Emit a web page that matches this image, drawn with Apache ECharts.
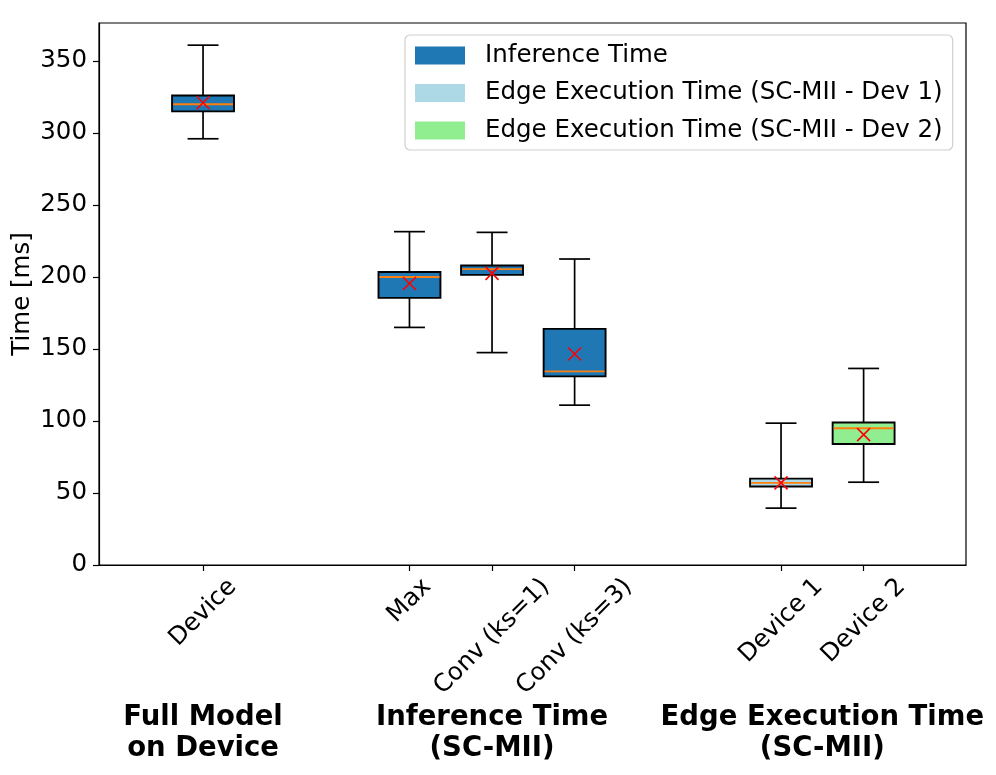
<!DOCTYPE html>
<html><head><meta charset="utf-8">
<script src="https://cdn.jsdelivr.net/npm/echarts@6/dist/echarts.min.js"></script>
<style>html,body{margin:0;padding:0;background:#fff}#c{width:996px;height:775px}</style>
</head><body><div id="c"></div>
<script>
// ---- data ----
const tickLabels = ['Device', 'Max', 'Conv (ks=1)', 'Conv (ks=3)', 'Device 1', 'Device 2'];
const positions = [1, 3.5, 4.5, 5.5, 8, 9];
const whiskerLow = [296, 165, 147.5, 111, 39.5, 57.5];
const q1 = [315, 185.5, 201.5, 131, 54.5, 84];
const median = [320, 200, 205.5, 134.5, 57, 95];
const q3 = [326, 203.5, 208, 164, 60, 99];
const whiskerHigh = [361, 231.5, 231, 212.5, 98.5, 136.5];
const means = [321, 195.5, 202.5, 146.5, 57, 90.5];
const seriesNames = ['Inference Time', 'Edge Execution Time (SC-MII - Dev 1)', 'Edge Execution Time (SC-MII - Dev 2)'];
const seriesMembers = [[0, 1, 2, 3], [4], [5]];
const seriesColors = ['#1f77b4', '#add8e6', '#90ee90'];
const groupLabels = ['Full Model\non Device', 'Inference Time\n(SC-MII)', 'Edge Execution Time\n(SC-MII)'];
const groupPositions = [1, 4.5, 8.5];
const yTicks = [0, 50, 100, 150, 200, 250, 300, 350];

const FONT = 'DejaVu Sans';
const FS = 24.5;

// measure tick label widths to emulate centred rotated labels
const cv = document.createElement('canvas').getContext('2d');
cv.font = FS + 'px "' + FONT + '"';
const rich = {};
tickLabels.forEach((t, i) => {
  const L = cv.measureText(t).width;
  rich['t' + i] = {
    fontSize: FS, fontFamily: FONT, color: '#000',
    padding: [0.5 * L, 0.5 * L, 0, 0]
  };
});

function renderBox(params, api) {
  const x = api.value(0);
  const lo = api.value(1), a = api.value(2), m = api.value(3), b = api.value(4), hi = api.value(5), mu = api.value(6);
  const halfW = 0.375, capW = 0.1875;
  const pLo = api.coord([x, lo]), pA = api.coord([x, a]), pM = api.coord([x, m]),
        pB = api.coord([x, b]), pHi = api.coord([x, hi]), pMu = api.coord([x, mu]);
  const left = api.coord([x - halfW, a])[0], right = api.coord([x + halfW, a])[0];
  const cl = api.coord([x - capW, a])[0], cr = api.coord([x + capW, a])[0];
  const color = api.visual('color');
  const ls = { stroke: '#000', lineWidth: 1.7 };
  const s = 6.5;
  return {
    type: 'group',
    children: [
      { type: 'line', shape: { x1: pLo[0], y1: pLo[1], x2: pA[0], y2: pA[1] }, style: ls },
      { type: 'line', shape: { x1: pB[0], y1: pB[1], x2: pHi[0], y2: pHi[1] }, style: ls },
      { type: 'line', shape: { x1: cl, y1: pLo[1], x2: cr, y2: pLo[1] }, style: ls },
      { type: 'line', shape: { x1: cl, y1: pHi[1], x2: cr, y2: pHi[1] }, style: ls },
      { type: 'rect', shape: { x: left, y: pB[1], width: right - left, height: pA[1] - pB[1] },
        style: { fill: color, stroke: '#000', lineWidth: 1.9 } },
      { type: 'line', shape: { x1: left + 1, y1: pM[1], x2: right - 1, y2: pM[1] },
        style: { stroke: '#ff7f0e', lineWidth: 1.9 } },
      { type: 'line', shape: { x1: pMu[0] - s, y1: pMu[1] - s, x2: pMu[0] + s, y2: pMu[1] + s },
        style: { stroke: '#ff0000', lineWidth: 1.6 } },
      { type: 'line', shape: { x1: pMu[0] - s, y1: pMu[1] + s, x2: pMu[0] + s, y2: pMu[1] - s },
        style: { stroke: '#ff0000', lineWidth: 1.6 } }
    ]
  };
}

const series = seriesNames.map((name, si) => ({
  type: 'custom',
  name: name,
  renderItem: renderBox,
  itemStyle: { color: seriesColors[si] },
  encode: { x: 0, y: [1, 2, 3, 4, 5] },
  data: seriesMembers[si].map(i => [positions[i], whiskerLow[i], q1[i], median[i], q3[i], whiskerHigh[i], means[i]]),
  silent: true,
  animation: false
}));

const chart = echarts.init(document.getElementById('c'));
chart.setOption({
  animation: false,
  backgroundColor: '#ffffff',
  textStyle: { fontFamily: FONT },
  grid: { left: 99, right: 30, top: 23, bottom: 210, containLabel: false, outerBoundsMode: 'none',
          show: true, borderColor: '#000', borderWidth: 1.2, backgroundColor: 'transparent' },
  legend: {
    data: seriesNames,
    orient: 'vertical',
    left: 405, top: 35,
    padding: [8, 10, 7, 10],
    itemGap: 12.5,
    itemWidth: 50, itemHeight: 18,
    icon: 'rect',
    itemStyle: { borderWidth: 0 },
    textStyle: { fontSize: FS, fontFamily: FONT, color: '#000', lineHeight: 24, padding: [0, 0, 0, 15] },
    borderColor: '#d0d0d0', borderWidth: 1.2, borderRadius: 5,
    backgroundColor: 'rgba(255,255,255,0.8)',
    selectedMode: false
  },
  xAxis: {
    type: 'value',
    min: -0.26, max: 10.24,
    splitLine: { show: false },
    axisLine: { show: true, onZero: false, lineStyle: { color: '#000', width: 1.2 } },
    axisTick: { show: true, customValues: positions, length: 6, lineStyle: { color: '#000', width: 1.2 } },
    axisLabel: {
      show: true,
      customValues: positions,
      rotate: 45,
      align: 'center',
      verticalAlign: 'middle',
      margin: 18,
      hideOverlap: false,
      rich: rich,
      formatter: function (v) {
        const i = positions.findIndex(p => Math.abs(p - v) < 1e-6);
        return i < 0 ? '' : '{t' + i + '|' + tickLabels[i] + '}';
      }
    }
  },
  yAxis: {
    type: 'value',
    min: 0, max: 376.4,
    name: 'Time [ms]',
    nameLocation: 'middle',
    nameRotate: 90,
    nameGap: 64,
    nameMoveOverlap: false,
    nameTextStyle: { fontSize: FS, fontFamily: FONT, color: '#000' },
    splitLine: { show: false },
    axisLine: { show: true, onZero: false, lineStyle: { color: '#000', width: 1.2 } },
    axisTick: { show: true, customValues: yTicks, length: 6, lineStyle: { color: '#000', width: 1.2 } },
    axisLabel: {
      customValues: yTicks,
      fontSize: FS, fontFamily: FONT, color: '#000', margin: 12
    }
  },
  series: series
});

const gy = 702;
chart.setOption({
  graphic: groupLabels.map((t, i) => ({
    type: 'text',
    x: chart.convertToPixel({ xAxisIndex: 0 }, groupPositions[i]),
    y: gy,
    style: {
      text: t, fontSize: 27.5, fontWeight: 'bold', fontFamily: FONT, fill: '#000',
      align: 'center', verticalAlign: 'top', lineHeight: 31
    }
  }))
});
</script>
</body></html>
